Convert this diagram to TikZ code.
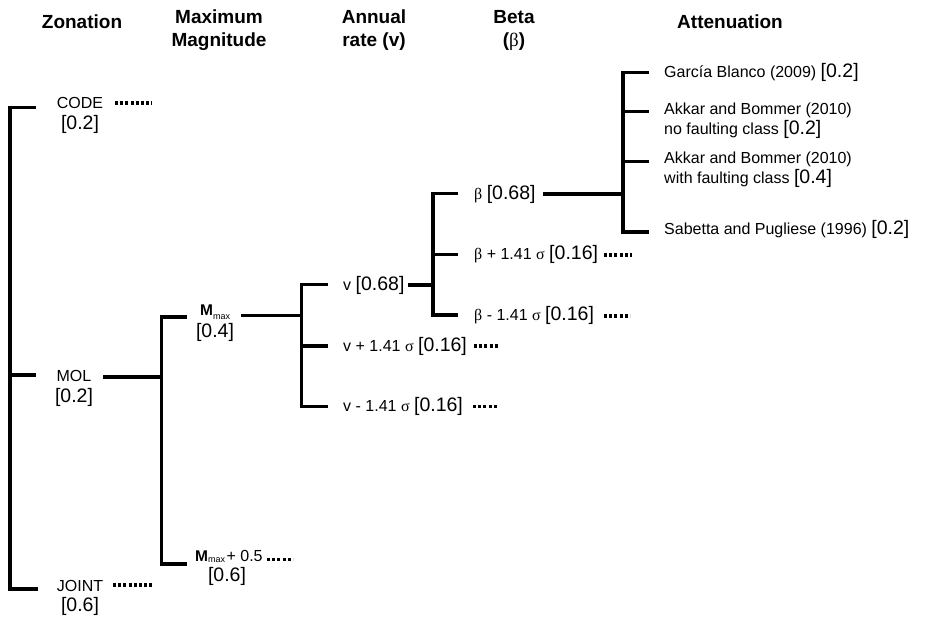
\documentclass[tikz,border=0pt]{standalone}
\usepackage{fontspec}
\setmainfont{Liberation Sans}
\newfontfamily\grk{Liberation Serif}
\newcommand\wgt[1]{{\fontsize{19.5}{22}\selectfont[#1]}}
\newcommand\txtfont{\fontsize{16}{19}\selectfont}
\newcommand\Mmx[1]{{\fontsize{15.5}{17}\selectfont\bfseries M}\raisebox{#1}{\fontsize{9}{10}\selectfont max}}
\tikzset{
  lbl/.style={anchor=base west, inner sep=0pt, font=\txtfont},
  lblc/.style={anchor=base, inner sep=0pt, font=\txtfont},
  hdr/.style={anchor=base, inner sep=0pt, font=\fontsize{19}{23}\selectfont\bfseries},
  branch/.style={line width=3.1pt, line join=miter, line cap=butt},
  dots/.style={line width=3.1pt, dash pattern=on 3pt off 2.2pt}
}
\begin{document}
\begin{tikzpicture}[x=1pt,y=-1pt]
\useasboundingbox (0,0) rectangle (925,619);
% headers
\node[hdr] (hz)  at (82,28)  {Zonation};
\node[hdr] (hm1) at (219,23) {Maximum};
\node[hdr] (hm2) at (219,46) {Magnitude};
\node[hdr] (ha1) at (374,23) {Annual};
\node[hdr] (ha2) at (374,46) {rate (v)};
\node[hdr] (hb1) at (514,23) {Beta};
\node[hdr] (hb2) at (514,46) {({\mdseries\grk β})};
\node[hdr] (hat) at (730,28) {Attenuation};
% zonation labels
\node[lblc] (code)   at (80,108)   {CODE};
\node[lblc] (codew)  at (80,129.5) {\wgt{0.2}};
\node[lblc] (mol)    at (74,381.5) {MOL};
\node[lblc] (molw)   at (74,402)   {\wgt{0.2}};
\node[lblc] (joint)  at (80,591.5) {JOINT};
\node[lblc] (jointw) at (80,611)   {\wgt{0.6}};
% maximum magnitude labels
\node[lbl]  (mm)  at (200,315.5) {\Mmx{-3.5pt}};
\node[lblc] (mmw) at (215,337.5) {\wgt{0.4}};
\node[lbl]  (mp)  at (195,561)   {\Mmx{-1.5pt}\hspace{1.5pt}+ 0.5};
\node[lblc] (mpw) at (227,581)   {\wgt{0.6}};
% annual rate labels
\node[lbl] (v0) at (343,290)   {v \wgt{0.68}};
\node[lbl] (vp) at (343,351)   {v + 1.41 {\grk σ} \wgt{0.16}};
\node[lbl] (vm) at (343,411.5) {v - 1.41 {\grk σ} \wgt{0.16}};
% beta labels
\node[lbl] (b0) at (474,199)   {{\grk β} \wgt{0.68}};
\node[lbl] (bp) at (474,259.5) {{\grk β} + 1.41 {\grk σ} \wgt{0.16}};
\node[lbl] (bm) at (474,320)   {{\grk β} - 1.41 {\grk σ} \wgt{0.16}};
% attenuation labels
\node[lbl] (a1)  at (664,77)    {García Blanco (2009) \wgt{0.2}};
\node[lbl] (a2)  at (664,114)   {Akkar and Bommer (2010)};
\node[lbl] (a2b) at (664,134.5) {no faulting class \wgt{0.2}};
\node[lbl] (a3)  at (664,163.5) {Akkar and Bommer (2010)};
\node[lbl] (a3b) at (664,183.5) {with faulting class \wgt{0.4}};
\node[lbl] (a4)  at (664,234)   {Sabetta and Pugliese (1996) \wgt{0.2}};
% structure coordinates
\coordinate (zt) at (10,107.5);  \coordinate (zte) at (36,107.5);
\coordinate (zm) at (10,375);    \coordinate (zme) at (36,375);
\coordinate (zb) at (10,589);    \coordinate (zbe) at (38,589);
\coordinate (mols) at (103,377); \coordinate (molf) at (161.5,377);
\coordinate (mt) at (161.5,317); \coordinate (mte) at (187,317);
\coordinate (mb) at (161.5,564); \coordinate (mbe) at (187,564);
\coordinate (mms) at (241,315.5); \coordinate (mmf) at (301.5,315.5);
\coordinate (at) at (301.5,284.5); \coordinate (ate) at (328,284.5);
\coordinate (am) at (301.5,346);   \coordinate (ame) at (328,346);
\coordinate (ab) at (301.5,406.5); \coordinate (abe) at (328,406.5);
\coordinate (v0s) at (408,285); \coordinate (v0f) at (433,285);
\coordinate (bt) at (433,193.5); \coordinate (bte) at (458,193.5);
\coordinate (bmid) at (433,254.5); \coordinate (bme) at (458,254.5);
\coordinate (bb) at (433,315);   \coordinate (bbe) at (458,315);
\coordinate (b0s) at (543,194); \coordinate (b0f) at (623,194);
\coordinate (tt) at (623,72.5);  \coordinate (tte) at (649,72.5);
\coordinate (t2) at (623,111.5); \coordinate (t2e) at (649,111.5);
\coordinate (t3) at (623,161.5); \coordinate (t3e) at (649,161.5);
\coordinate (tb) at (623,232);   \coordinate (tbe) at (649,232);
% branches
\draw[branch] (zte) -- (zt) -- (zb) -- (zbe);
\draw[branch] (zm) -- (zme);
\draw[branch] (mols) -- (molf);
\draw[branch] (mte) -- (mt) -- (mb) -- (mbe);
\draw[branch] (mms) -- (mmf);
\draw[branch] (ate) -- (at) -- (ab) -- (abe);
\draw[branch] (am) -- (ame);
\draw[branch] (v0s) -- (v0f);
\draw[branch] (bte) -- (bt) -- (bb) -- (bbe);
\draw[branch] (bmid) -- (bme);
\draw[branch] (b0s) -- (b0f);
\draw[branch] (tte) -- (tt) -- (tb) -- (tbe);
\draw[branch] (t2) -- (t2e);
\draw[branch] (t3) -- (t3e);
% dotted continuations
\coordinate (d1s) at (115,103);   \coordinate (d1e) at (152,103);
\coordinate (d2s) at (113,585);   \coordinate (d2e) at (154,585);
\coordinate (d3s) at (267,559.5); \coordinate (d3e) at (293,559.5);
\coordinate (d4s) at (474,346);   \coordinate (d4e) at (499,346);
\coordinate (d5s) at (473,406.5); \coordinate (d5e) at (497,406.5);
\coordinate (d6s) at (604,255);   \coordinate (d6e) at (632,255);
\coordinate (d7s) at (604,316);   \coordinate (d7e) at (630,316);
\foreach \i in {1,...,7} { \draw[dots] (d\i s) -- (d\i e); }
\end{tikzpicture}
\end{document}
